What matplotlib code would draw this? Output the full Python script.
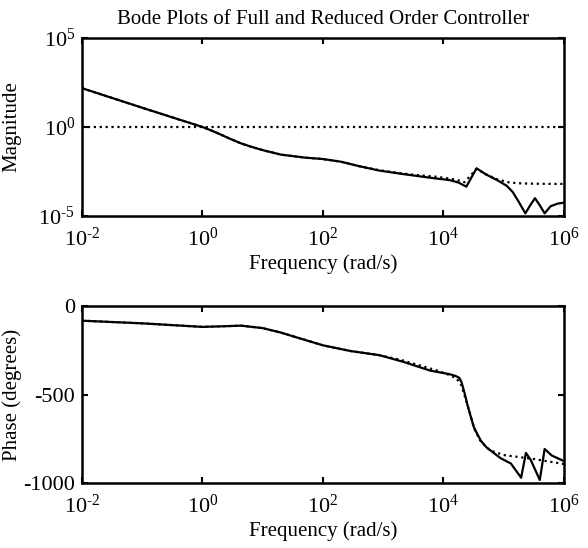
import matplotlib
matplotlib.use("Agg")
import matplotlib.pyplot as plt
import numpy as np

plt.rcParams['font.family'] = ['Liberation Serif', 'DejaVu Serif']
plt.rcParams['mathtext.fontset'] = 'custom'
plt.rcParams['mathtext.rm'] = 'Liberation Serif'
plt.rcParams['mathtext.it'] = 'Liberation Serif:italic'
plt.rcParams['axes.unicode_minus'] = False

# magnitude, full order controller (log10 w, log10 |K|)
mag_full_logw = [-2.0, -1.0, 0.0, 0.15, 0.3, 0.45, 0.64, 0.8, 1.0, 1.3, 1.7, 2.0, 2.3,
                 2.6, 2.94, 3.3, 3.78, 4.1, 4.25, 4.38, 4.55, 4.7, 4.9, 5.05, 5.15, 5.25,
                 5.36, 5.45, 5.52, 5.6, 5.68, 5.78, 5.9, 6.0]
mag_full = [2.18, 1.08, 0.0, -0.2, -0.42, -0.65, -0.92, -1.1, -1.3, -1.55, -1.72, -1.8,
            -1.95, -2.2, -2.45, -2.63, -2.85, -2.98, -3.12, -3.35, -2.32, -2.65, -3.0,
            -3.3, -3.65, -4.2, -4.85, -4.35, -4.0, -4.4, -4.85, -4.45, -4.3, -4.25]

# magnitude, reduced order controller
mag_red_logw = [-2.0, -1.0, 0.0, 0.15, 0.3, 0.45, 0.64, 0.8, 1.0, 1.3, 1.7, 2.0, 2.3,
                2.6, 2.94, 3.3, 3.5, 3.9, 4.2, 4.35, 4.55, 4.7, 4.9, 5.1, 5.3, 5.6, 6.0]
mag_red = [2.18, 1.08, 0.0, -0.2, -0.42, -0.65, -0.92, -1.1, -1.3, -1.55, -1.72, -1.8,
           -1.95, -2.2, -2.43, -2.6, -2.68, -2.8, -2.95, -3.1, -2.35, -2.65, -2.95, -3.12,
           -3.17, -3.19, -3.2]

unity = 1.0

# phase, full order controller (log10 w, degrees)
ph_full_logw = [-2.0, -1.0, 0.0, 0.3, 0.64, 1.0, 1.3, 1.55, 2.0, 2.45, 2.94, 3.33, 3.78,
                4.1, 4.2, 4.26, 4.3, 4.35, 4.4, 4.5, 4.56, 4.62, 4.68, 4.72, 4.95, 5.12,
                5.29, 5.37, 5.45, 5.6, 5.68, 5.8, 6.0]
ph_full = [-83, -98, -118, -115, -111, -125, -150, -176, -222, -254, -278, -315, -365,
           -385, -395, -405, -430, -490, -560, -680, -722, -760, -785, -800, -860, -890,
           -970, -830, -870, -983, -808, -845, -876]

# phase, reduced order controller
ph_red_logw = [-2.0, -1.0, 0.0, 0.3, 0.64, 1.0, 1.3, 1.55, 2.0, 2.45, 2.94, 3.3, 3.6,
               3.9, 4.1, 4.22, 4.3, 4.4, 4.52, 4.62, 4.77, 5.0, 5.49, 6.0]
ph_red = [-83, -98, -118, -115, -111, -125, -150, -176, -222, -254, -278, -305, -335,
          -365, -390, -410, -450, -560, -700, -765, -815, -842, -864, -893]

xtick_vals = [1e-2, 1e0, 1e2, 1e4, 1e6]
xtick_labels = [r'$10^{\text{-2}}$', r'$10^{0}$', r'$10^{2}$', r'$10^{4}$', r'$10^{6}$']
ytick_vals = [1e-5, 1e0, 1e5]
ytick_labels = [r'$10^{\text{-5}}$', r'$10^{0}$', r'$10^{5}$']

fig = plt.figure(figsize=(5.88, 5.48), dpi=100)
ax1 = fig.add_axes([0.1395, 0.6058, 0.8195, 0.3249])
ax2 = fig.add_axes([0.1395, 0.1186, 0.8195, 0.3230])

lw = 1.6
ax1.loglog(10.0 ** np.array(mag_full_logw), 10.0 ** np.array(mag_full), 'k-', lw=lw)
ax1.loglog(10.0 ** np.array(mag_red_logw), 10.0 ** np.array(mag_red), 'k:', lw=lw)
ax1.axhline(unity, color='k', ls=':', lw=lw)
ax1.set_ylim(1e-5, 1e5)
ax1.set_yticks(ytick_vals)
ax1.set_yticklabels(ytick_labels)
ax1.set_ylabel('Magnitude', fontsize=15)
ax1.set_title('Bode Plots of Full and Reduced Order Controller', fontsize=15, pad=10)

ax2.semilogx(10.0 ** np.array(ph_full_logw), ph_full, 'k-', lw=lw)
ax2.semilogx(10.0 ** np.array(ph_red_logw), ph_red, 'k:', lw=lw)
ax2.set_ylim(-1000, 0)
ax2.set_yticks([-1000, -500, 0])
ax2.set_ylabel('Phase (degrees)', fontsize=15)

for ax in (ax1, ax2):
    ax.set_xlim(1e-2, 1e6)
    ax.set_xticks(xtick_vals)
    ax.set_xticklabels(xtick_labels)
    ax.minorticks_off()
    ax.set_xlabel('Frequency (rad/s)', fontsize=15, labelpad=3)
    ax.yaxis.set_label_coords(-0.125, 0.5)
    ax.tick_params(direction='in', top=True, right=True, length=4, width=1.5,
                   labelsize=16)
    ax.tick_params(axis='x', pad=8)
    ax.tick_params(axis='y', pad=5)
    for s in ax.spines.values():
        s.set_linewidth(1.8)

fig.savefig('out.png', dpi=100)
